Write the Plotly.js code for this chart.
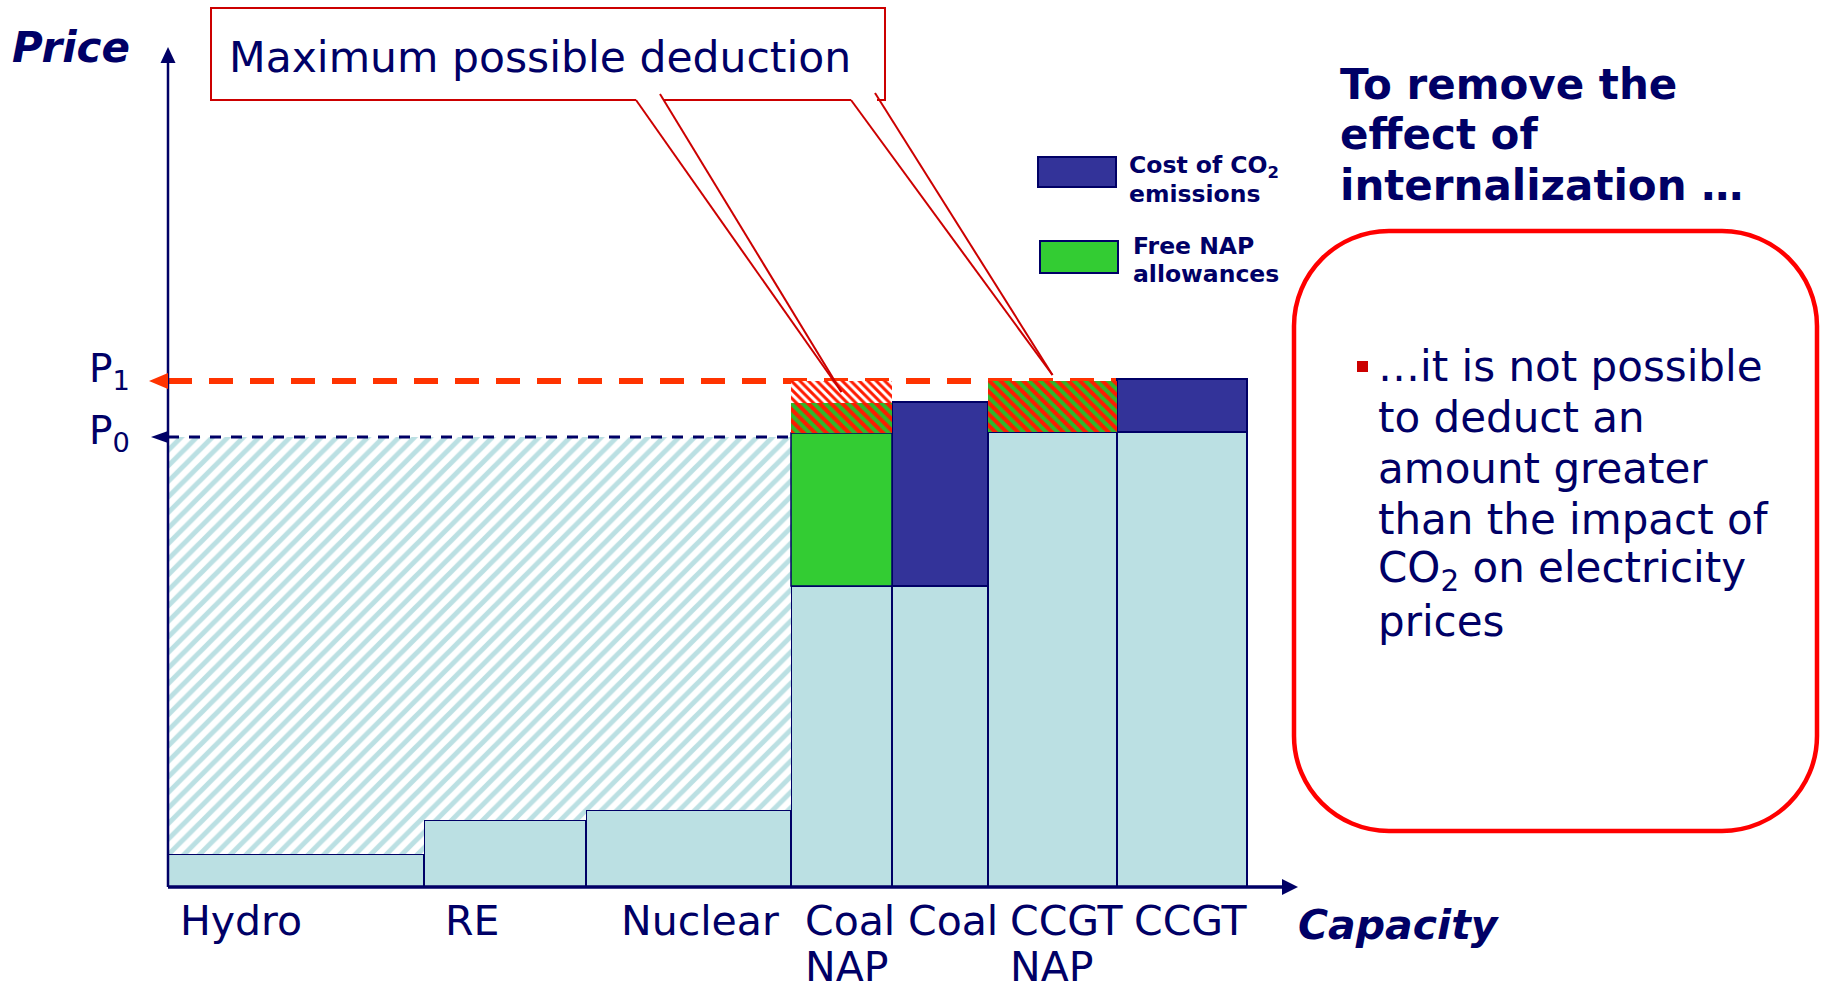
<!DOCTYPE html>
<html><head><meta charset="utf-8">
<script src="https://cdn.plot.ly/plotly-3.0.1.min.js"></script>
<style>html,body{margin:0;padding:0;background:#fff;} #chart{width:1822px;height:990px;}</style>
</head><body><div id="chart"></div>
<script>
// ---------------- data ----------------
const categories = ['Hydro', 'RE', 'Nuclear', 'Coal NAP', 'Coal', 'CCGT NAP', 'CCGT'];
const capacity = [25.6, 16.2, 20.5, 10.1, 9.6, 12.9, 13.0];
const variableCost = [3.3, 6.7, 7.7, 30.1, 30.1, 45.5, 45.5];
const co2Cost = [0, 0, 0, 0, 18.4, 0, 5.3];
const freeAllowance = [0, 0, 0, 15.3, 0, 0, 0];
const deductedAllowance = [0, 0, 0, 3.0, 0, 5.1, 0];
const excessDeduction = [0, 0, 0, 2.2, 0, 0, 0];
const P0 = 45.0, P1 = 50.6;
const legendLabels = [['Cost of CO<sub>2</sub>', 'emissions'], ['Free NAP', 'allowances']];
const titleLines = ['To remove the', 'effect of', 'internalization …'];
const bulletLines = ['…it is not possible', 'to deduct an', 'amount greater', 'than the impact of', 'CO<sub>2</sub> on electricity', 'prices'];
const calloutText = 'Maximum possible deduction';

// ---------------- styles ----------------
const FONT = 'DejaVu Sans';
const NAVY = '#000066', BLUE = '#333399', LIGHT = '#BBE0E3', GREEN = '#33CC33', RED = '#FF1A00', ORANGE = '#FF3300', BOXRED = '#CC0000';
const W = 1822, H = 990, ML = 168, MR = 522, MT = 46, MB = 103;
const PW = W - ML - MR, PH = H - MT - MB;
const XMAX = 113.2, YMAX = 84.1;
const px = x => (x - ML) / PW;
const py = y => (H - MB - y) / PH;
const P = (x, y) => px(x).toFixed(5) + ',' + py(y).toFixed(5);

// ---------------- geometry from data ----------------
const left = []; let acc = 0;
capacity.forEach(c => { left.push(acc); acc += c; });
const center = capacity.map((c, i) => left[i] + c / 2);
const zeros = capacity.map(() => 0);
const add = (...arrs) => arrs[0].map((_, i) => arrs.reduce((s, a) => s + a[i], 0));
const total = add(variableCost, co2Cost, freeAllowance, deductedAllowance, excessDeduction);
const rent = variableCost.map((v, i) => total[i] < P0 ? P0 - v : 0);

function barTrace(values, baseArr, marker) {
  const ids = values.map((v, i) => v > 0 ? i : -1).filter(i => i >= 0);
  return {
    type: 'bar', x: ids.map(i => center[i]), width: ids.map(i => capacity[i]),
    y: ids.map(i => values[i]), base: ids.map(i => baseArr[i]),
    marker: marker, hoverinfo: 'skip', showlegend: false
  };
}

const traces = [
  barTrace(variableCost, zeros, {color: LIGHT, line: {color: NAVY, width: 2}}),
  barTrace(rent, variableCost, {color: 'white', line: {width: 0},
    pattern: {shape: '/', fgcolor: LIGHT, bgcolor: 'white', size: 11, solidity: 0.45, fillmode: 'replace'}}),
  barTrace(co2Cost, variableCost, {color: BLUE, line: {color: NAVY, width: 2}}),
  barTrace(freeAllowance, variableCost, {color: GREEN, line: {color: NAVY, width: 1.5}}),
  barTrace(deductedAllowance, add(variableCost, freeAllowance), {color: GREEN, line: {width: 0},
    pattern: {shape: '\\', fgcolor: RED, bgcolor: '#2DB82D', size: 8, solidity: 0.5, fillmode: 'replace'}}),
  barTrace(excessDeduction, add(variableCost, freeAllowance, deductedAllowance), {color: 'white', line: {width: 0},
    pattern: {shape: '\\', fgcolor: RED, bgcolor: 'white', size: 6, solidity: 0.5, fillmode: 'replace'}})
];

// ---------------- shapes ----------------
function roundRect(x1, y1, x2, y2, r) {
  const k = r * 0.5523;
  return `M${P(x1 + r, y1)} L${P(x2 - r, y1)} C${P(x2 - r + k, y1)} ${P(x2, y1 + r - k)} ${P(x2, y1 + r)} ` +
    `L${P(x2, y2 - r)} C${P(x2, y2 - r + k)} ${P(x2 - r + k, y2)} ${P(x2 - r, y2)} ` +
    `L${P(x1 + r, y2)} C${P(x1 + r - k, y2)} ${P(x1, y2 - r + k)} ${P(x1, y2 - r)} ` +
    `L${P(x1, y1 + r)} C${P(x1, y1 + r - k)} ${P(x1 + r - k, y1)} ${P(x1 + r, y1)} Z`;
}
const paperRect = (x0, y0, x1, y1, fill, line) => ({type: 'rect', xref: 'paper', yref: 'paper',
  x0: px(x0), x1: px(x1), y0: py(y1), y1: py(y0), fillcolor: fill, line: line});
function head(xref, xa, yref, ya, path, color) {
  return {type: 'path', xref: xref, yref: yref, xsizemode: 'pixel', ysizemode: 'pixel',
    xanchor: xa, yanchor: ya, path: path, fillcolor: color, line: {width: 0}, layer: 'above'};
}

const tip1 = {x: center[3], y: variableCost[3] + freeAllowance[3] + deductedAllowance[3] + excessDeduction[3] / 2};
const tip2 = {x: center[5], y: variableCost[5] + deductedAllowance[5] + 0.6};
const calloutTails = [[tip1, 46.8, 78.7], [tip1, 49.2, 79.3], [tip2, 68.3, 78.7], [tip2, 70.7, 79.4]];

const shapes = [
  // axes
  {type: 'line', xref: 'paper', yref: 'y', x0: 0, x1: 0, y0: 0, y1: YMAX - 1.2, line: {color: NAVY, width: 2.5}},
  {type: 'line', xref: 'x', yref: 'paper', x0: 0, x1: XMAX - 1.2, y0: 0, y1: 0, line: {color: NAVY, width: 3.5}},
  head('paper', 0, 'y', YMAX - 0.1, 'M0,0 L-7.5,-16 L7.5,-16 Z', NAVY),
  head('x', XMAX - 0.2, 'paper', 0, 'M0,0 L-16,-8 L-16,8 Z', NAVY),
  // price levels
  {type: 'line', xref: 'x', yref: 'y', x0: 0, x1: left[6], y0: P1, y1: P1, layer: 'below',
    line: {color: ORANGE, width: 6, dash: '24px,17px'}},
  {type: 'line', xref: 'x', yref: 'y', x0: 0, x1: left[3], y0: P0, y1: P0, layer: 'above',
    line: {color: NAVY, width: 3, dash: '11px,10px'}},
  head('paper', 0, 'y', P1, 'M-19,0 L0,-8 L0,8 Z', ORANGE),
  head('paper', 0, 'y', P0, 'M-17,0 L0,-6 L0,6 Z', NAVY),
  // callout
  {type: 'path', xref: 'paper', yref: 'paper', fillcolor: 'rgba(0,0,0,0)', line: {color: BOXRED, width: 2},
    path: `M${P(636, 100)} L${P(211, 100)} L${P(211, 8)} L${P(885, 8)} L${P(885, 100)} L${P(877, 100)} M${P(851, 100)} L${P(664, 100)}`},
  ...calloutTails.map(t => ({type: 'line', xref: 'x', yref: 'y', x0: t[0].x, y0: t[0].y, x1: t[1], y1: t[2],
    line: {color: BOXRED, width: 2}})),
  // right panel box and bullet
  {type: 'path', xref: 'paper', yref: 'paper', fillcolor: 'rgba(0,0,0,0)', line: {color: '#FF0000', width: 4.5},
    path: roundRect(1294, 231, 1817, 831, 95)},
  paperRect(1357, 361, 1368, 372, BOXRED, {width: 0}),
  // legend swatches
  paperRect(1038, 157, 1116, 187, BLUE, {color: NAVY, width: 2}),
  paperRect(1040, 241, 1118, 273, GREEN, {color: NAVY, width: 2})
];

// ---------------- annotations ----------------
function txt(text, x, baseline, size, extra) {
  return Object.assign({xref: 'paper', yref: 'paper', x: px(x - 2), y: py(baseline - 0.35 * size),
    xanchor: 'left', yanchor: 'middle', showarrow: false, text: text,
    font: {family: FONT, size: size, color: NAVY}}, extra || {});
}

const annotations = [];
// P labels
annotations.push({xref: 'paper', yref: 'y', x: px(87), y: P1, yshift: 10, xanchor: 'left', yanchor: 'middle', showarrow: false,
  text: 'P<sub>1</sub>', font: {family: FONT, size: 39, color: NAVY}});
annotations.push({xref: 'paper', yref: 'y', x: px(87), y: P0, yshift: 4, xanchor: 'left', yanchor: 'middle', showarrow: false,
  text: 'P<sub>0</sub>', font: {family: FONT, size: 39, color: NAVY}});
// axis titles
annotations.push(txt('<b><i>Price</i></b>', 12, 62, 42));
annotations.push(txt('<b><i>Capacity</i></b>', 1298, 939, 41));
// callout text
annotations.push(txt(calloutText, 229, 72, 42.5));
// category labels
const labelOffsetPx = [12, 21, 35, 14, 16, 22, 17];
categories.forEach((c, i) => {
  c.split(' ').forEach((line, j) => {
    const baseline = 935 + 46 * j;
    annotations.push({xref: 'x', yref: 'paper', x: left[i], xshift: labelOffsetPx[i] - 2,
      y: py(baseline - 0.35 * 41), xanchor: 'left', yanchor: 'middle', showarrow: false,
      text: line, font: {family: FONT, size: 41, color: NAVY}});
  });
});
// legend
const legendText = [[1129, [175, 202]], [1133, [254, 282]]];
legendLabels.forEach((lines, i) => lines.forEach((l, j) =>
  annotations.push(txt('<b>' + l + '</b>', legendText[i][0], legendText[i][1][j], 23.5))));
// right panel
titleLines.forEach((l, j) => annotations.push(txt('<b>' + l + '</b>', 1340, 99 + 50.5 * j, 42)));
bulletLines.forEach((l, j) => annotations.push(txt(l, 1378, 381 + 51 * j, 42)));

const layout = {
  width: W, height: H, margin: {l: ML, r: MR, t: MT, b: MB, pad: 0},
  paper_bgcolor: 'white', plot_bgcolor: 'white', barmode: 'overlay', showlegend: false,
  xaxis: {range: [0, XMAX], visible: false, fixedrange: true},
  yaxis: {range: [0, YMAX], visible: false, fixedrange: true},
  font: {family: FONT, color: NAVY},
  shapes: shapes, annotations: annotations
};
Plotly.newPlot('chart', traces, layout, {displayModeBar: false, staticPlot: true});
</script></body></html>
